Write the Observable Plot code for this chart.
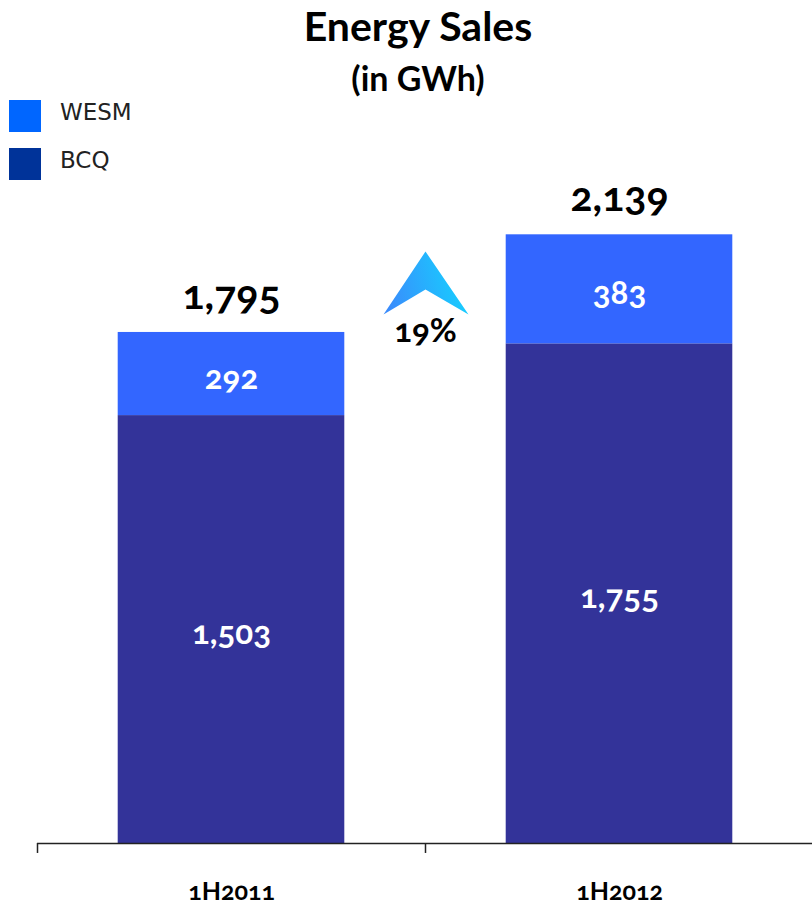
<!DOCTYPE html>
<html>
<head>
<meta charset="utf-8">
<script src="https://cdn.jsdelivr.net/npm/d3@7"></script>
<script src="https://cdn.jsdelivr.net/npm/@observablehq/plot@0.6"></script>
<style>
  html, body { margin: 0; padding: 0; background: #fff; }
  #wrap { position: relative; width: 812px; height: 906px; overflow: hidden; font-family: Lato, "Open Sans", sans-serif; }
  .title { position: absolute; left: 418px; transform: translateX(-50%); font-weight: 700; color: #000; white-space: nowrap; text-align: center; }
  #t1 { top: 2px; font-size: 41px; line-height: 48px; }
  #t2 { top: 58px; font-size: 34px; line-height: 40px; }
  .leg { position: absolute; left: 9px; display: flex; align-items: center; font-family: "DejaVu Sans", sans-serif; font-size: 23px; color: #222; }
  .leg .sw { width: 32px; height: 32px; margin-right: 19px; }
  .leg span { position: relative; top: -4px; }
  #chart { position: absolute; left: 0; top: 0; }
</style>
</head>
<body>
<div id="wrap">
  <div id="chart"></div>
  <div class="title" id="t1">Energy Sales</div>
  <div class="title" id="t2">(in GWh)</div>
  <div id="legend"></div>
</div>
<script>
// ---- data ----
const periods = ["1H2011", "1H2012"];
const bcq = [1503, 1755];
const wesm = [292, 383];
const totals = [1795, 2139];
const segments = ["BCQ", "WESM"];
const barColors = ["#333399", "#3366ff"];
const legendItems = ["WESM", "BCQ"];
const legendColors = ["#0066ff", "#003399"];

// ---- derived rows ----
const rows = [];
periods.forEach((p, i) => {
  rows.push({i, period: p, segment: "BCQ", value: bcq[i], y1: 0, y2: bcq[i]});
  rows.push({i, period: p, segment: "WESM", value: wesm[i], y1: bcq[i], y2: bcq[i] + wesm[i]});
});
const totalRows = periods.map((p, i) => ({i, period: p, total: totals[i]}));
const growth = Math.round((totals[1] / totals[0] - 1) * 100);
const growthRow = [{x: 1, y: (totals[0] + totals[1]) / 2, label: growth + "%"}];

const fmt = d3.format(",");
const half = 0.292; // half bar width in band units

// arrowhead symbol
const arrowSymbol = {
  draw(context) {
    context.moveTo(0, -32);
    context.lineTo(43, 31);
    context.lineTo(0, 6);
    context.lineTo(-42, 31);
    context.closePath();
  }
};

const chart = Plot.plot({
  width: 812,
  height: 906,
  marginTop: 0,
  marginBottom: 63,
  marginLeft: 36,
  marginRight: 0,
  style: {fontFamily: "Lato, 'Open Sans', sans-serif", background: "transparent"},
  x: {domain: [0, 2], range: [37, 813], axis: null},
  y: {domain: [0, 2961], axis: null},
  color: {domain: segments, range: barColors},
  marks: [
    Plot.rect(rows, {x1: d => d.i + 0.5 - half, x2: d => d.i + 0.5 + half, y1: "y1", y2: "y2", fill: "segment"}),
    Plot.ruleY([0], {x1: 0, x2: 2, stroke: "#222", strokeWidth: 1.5}),
    Plot.ruleX([0, 1], {y1: 0, y2: -35, stroke: "#222", strokeWidth: 1.5}),
    Plot.text(periods, {x: (d, i) => i + 0.5, y: 0, dy: 48, text: d => d, fontSize: 25, fontWeight: 700, fill: "#000"}),
    Plot.text(rows, {x: d => d.i + 0.5, y: d => (d.y1 + d.y2) / 2, dy: 4, text: d => fmt(d.value), fontSize: 33, fontWeight: 700, fill: "#fff"}),
    Plot.text(totalRows, {x: d => d.i + 0.5, y: "total", dy: -37, text: d => fmt(d.total), fontSize: 41, fontWeight: 700, fill: "#000"}),
    Plot.dot(growthRow, {x: "x", y: "y", symbol: arrowSymbol, r: 30, fill: "url(#arrowGrad)", stroke: "none"}),
    Plot.text(growthRow, {x: "x", y: "y", dy: 48, text: "label", fontSize: 33, fontWeight: 700, fill: "#000"})
  ]
});

const svgNS = "http://www.w3.org/2000/svg";
const defs = document.createElementNS(svgNS, "defs");
defs.innerHTML = '<linearGradient id="arrowGrad" x1="0" y1="0.6" x2="1" y2="0.4">' +
  '<stop offset="0" stop-color="#3a8cfc"/><stop offset="1" stop-color="#14d4ff"/></linearGradient>';
chart.insertBefore(defs, chart.firstChild);
chart.querySelectorAll("text").forEach(t => t.style.fontVariantNumeric = "oldstyle-nums");
document.getElementById("chart").appendChild(chart);

// legend
const legend = document.getElementById("legend");
legendItems.forEach((name, k) => {
  const row = document.createElement("div");
  row.className = "leg";
  row.style.top = (100 + k * 48) + "px";
  row.innerHTML = `<div class="sw" style="background:${legendColors[k]}"></div><span>${name}</span>`;
  legend.appendChild(row);
});
</script>
</body>
</html>
